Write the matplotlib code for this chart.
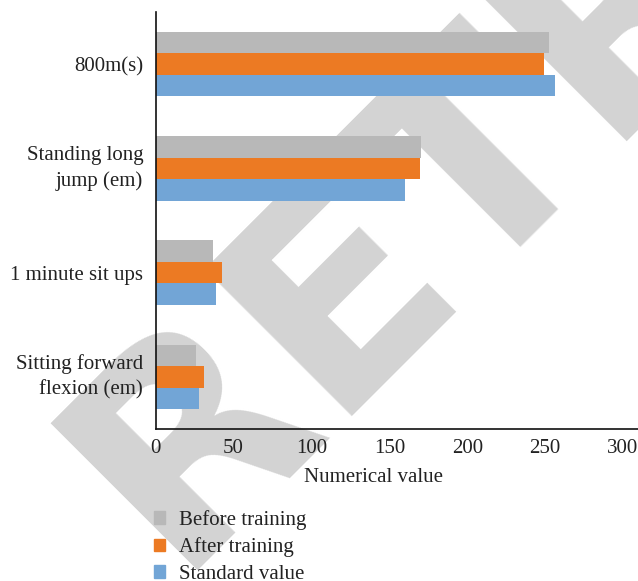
import numpy as np
import matplotlib
matplotlib.use("Agg")
import matplotlib.pyplot as plt
from matplotlib.patches import Patch

categories = ["800m(s)", "Standing long\njump (em)", "1 minute sit ups", "Sitting forward\nflexion (em)"]
series = ["Before training", "After training", "Standard value"]
before = [252.5, 170.5, 37, 26]
after = [249.5, 169.5, 42.5, 31]
standard = [256, 160, 38.5, 27.5]
xticks = [0, 50, 100, 150, 200, 250, 300]

colors = ["#B8B8B8", "#EC7A23", "#72A5D6"]

plt.rcParams["font.family"] = ["Liberation Serif", "DejaVu Serif"]

W, H = 638, 581
fig = plt.figure(figsize=(W / 100, H / 100), dpi=100)

# watermark, drawn behind everything
fig.text(172 / W, 1 - 570 / H, "RETRACTED", rotation=45, rotation_mode="anchor",
         ha="left", va="baseline", fontsize=205, fontweight="bold",
         family="DejaVu Sans", color="#D3D3D3", zorder=-1)

ax = fig.add_axes([155.7 / W, 1 - 429 / H, 1 - 155.7 / W, 417 / H])
ax.set_facecolor("none")

y = np.arange(len(categories))
h = 0.206
ax.barh(y - h, before, height=h, color=colors[0], label=series[0])
ax.barh(y, after, height=h, color=colors[1], label=series[1])
ax.barh(y + h, standard, height=h, color=colors[2], label=series[2])

ax.set_ylim(3.5, -0.5)
ax.set_xlim(0, 309.6)
ax.set_xticks(xticks)
ax.set_yticks(y)
ax.set_yticklabels(categories, linespacing=1.45)
for lab in ax.get_yticklabels():
    if "\n" in lab.get_text():
        lab.set_va("center")
ax.tick_params(axis="both", length=0, labelsize=15, colors="#222222")
ax.tick_params(axis="x", pad=7)
ax.tick_params(axis="y", pad=9)

for s in ["top", "right"]:
    ax.spines[s].set_visible(False)
for s in ["left", "bottom"]:
    ax.spines[s].set_color("#111111")
    ax.spines[s].set_linewidth(1.2)

ax.set_xlabel("Numerical value", fontsize=15, color="#222222", va="center")
ax.xaxis.set_label_coords((374 - 155.7) / 482.3, (429 - 477) / 417)

handles = [Patch(color=c, label=s) for c, s in zip(colors, series)]
fig.legend(handles=handles, loc="upper left", bbox_to_anchor=(154 / W, 1 - 510 / H),
           frameon=False, fontsize=15, handlelength=0.53, handleheight=0.53,
           handletextpad=0.67, labelspacing=0.36, borderaxespad=0, borderpad=0,
           labelcolor="#222222")

fig.savefig("out.png", dpi=100)
